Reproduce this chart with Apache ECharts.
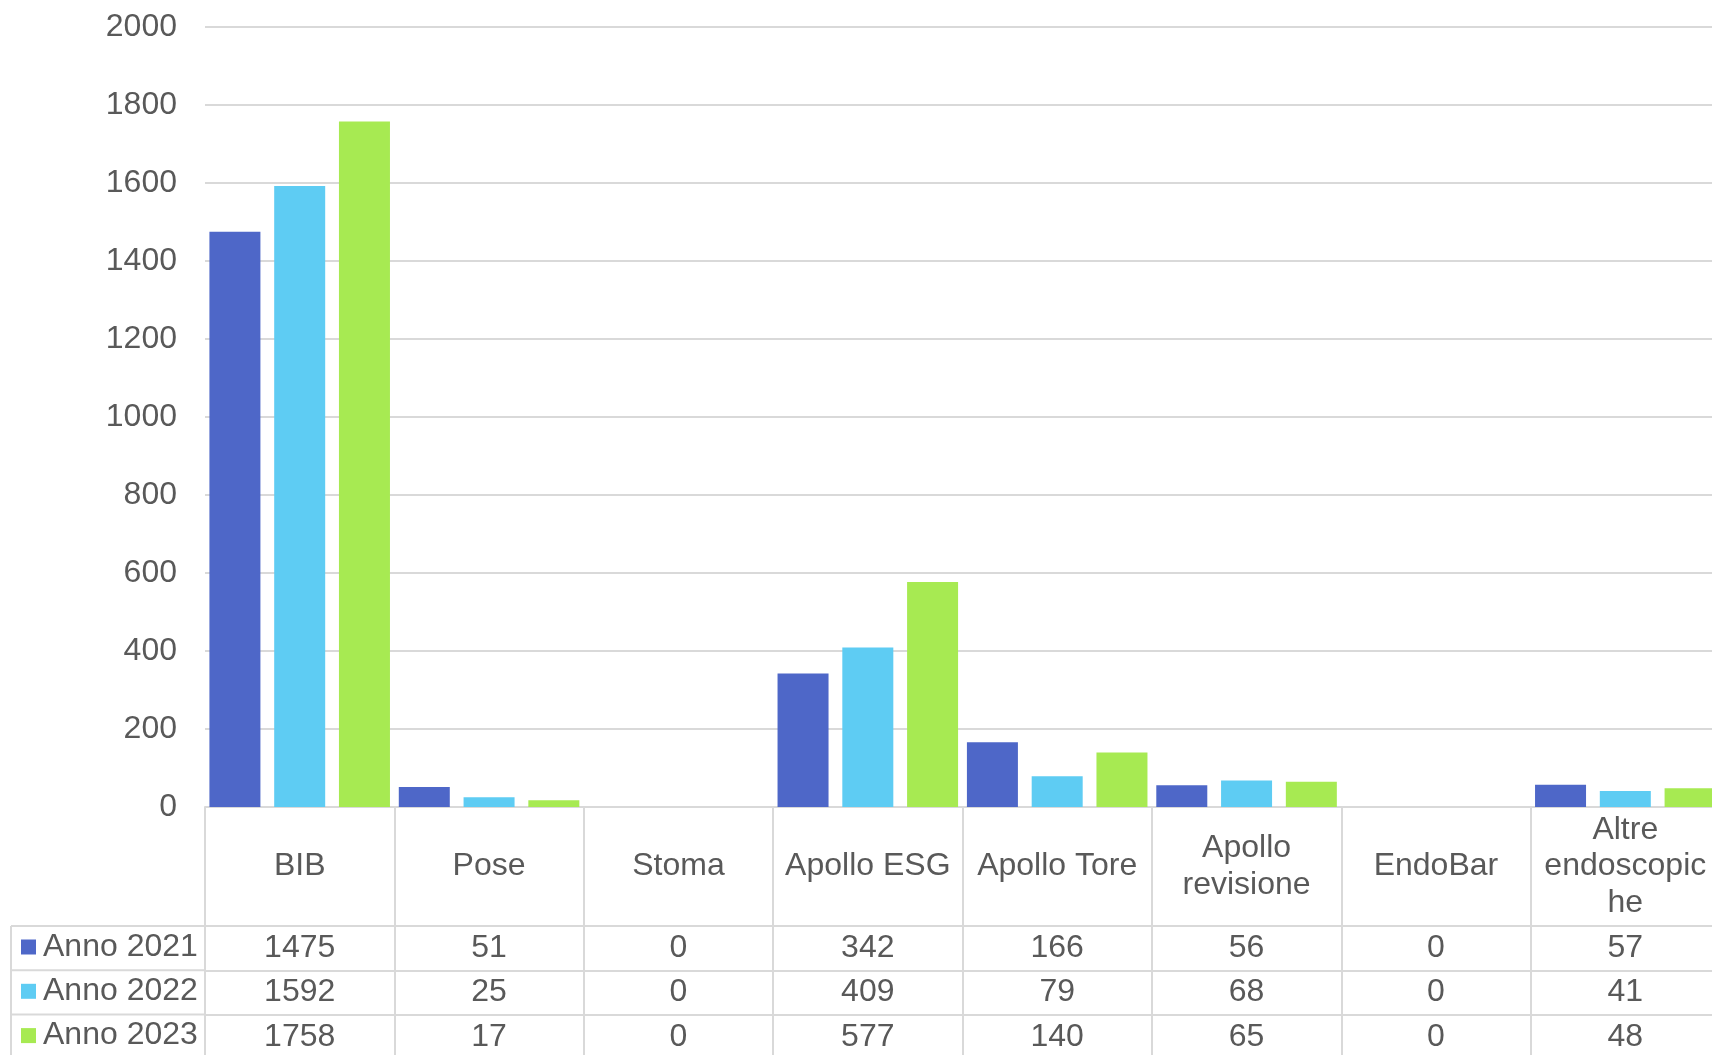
<!DOCTYPE html>
<html>
<head>
<meta charset="utf-8">
<script src="https://cdn.jsdelivr.net/npm/echarts@6/dist/echarts.min.js"></script>
<style>
html,body{margin:0;padding:0;background:#fff;overflow:hidden;width:1712px;height:1055px;}
#c{width:1720px;height:1055px;}
</style>
</head>
<body>
<div id="c"></div>
<script>
const categories = ['BIB', 'Pose', 'Stoma', 'Apollo ESG', 'Apollo Tore', 'Apollo\nrevisione', 'EndoBar', 'Altre\nendoscopic\nhe'];
const seriesNames = ['Anno 2021', 'Anno 2022', 'Anno 2023'];
const anno2021 = [1475, 51, 0, 342, 166, 56, 0, 57];
const anno2022 = [1592, 25, 0, 409, 79, 68, 0, 41];
const anno2023 = [1758, 17, 0, 577, 140, 65, 0, 48];
const colors = ['#4E67C8', '#5ECCF3', '#A7EA52'];
const yTicks = { min: 0, max: 2000, interval: 200 };

const allValues = [anno2021, anno2022, anno2023];
const FONT = '"Liberation Sans", Arial, sans-serif';
const TXT = '#595959';
const LINE = '#d9d9d9';
const FS = 32;

// layout
const gridLeft = 205, gridTop = 27, gridBottom = 248;
const headerH = 119;
const rowH = 44.3;
const axisY0 = 1055 - gridBottom;

const xAxes = [{
  type: 'category',
  data: categories,
  gridIndex: 0,
  position: 'bottom',
  offset: 0,
  axisLine: { show: true, lineStyle: { color: LINE, width: 2 } },
  axisTick: { show: true, interval: 0, length: headerH, lineStyle: { color: LINE, width: 2 } },
  axisLabel: {
    interval: 0, margin: headerH / 2, verticalAlign: 'middle',
    fontFamily: FONT, fontSize: FS, color: TXT, lineHeight: 36.5, align: 'center'
  },
  splitLine: { show: false }
}];
allValues.forEach((vals, i) => {
  xAxes.push({
    type: 'category',
    data: categories,
    gridIndex: 0,
    position: 'bottom',
    offset: headerH + i * rowH,
    axisLine: { show: true, lineStyle: { color: LINE, width: 2 } },
    axisTick: { show: true, interval: 0, length: rowH + (i === 2 ? 20 : 0), lineStyle: { color: LINE, width: 2 } },
    axisLabel: {
      interval: 0, margin: rowH / 2, verticalAlign: 'middle',
      fontFamily: FONT, fontSize: FS, color: TXT,
      formatter: (v, idx) => String(vals[idx])
    },
    splitLine: { show: false }
  });
});

const graphicLines = [];
for (let i = 0; i < 3; i++) {
  const y = axisY0 + headerH + i * rowH;
  graphicLines.push({
    type: 'line', silent: true,
    shape: { x1: 11, y1: y, x2: gridLeft, y2: y },
    style: { stroke: LINE, lineWidth: 2 }
  });
}
graphicLines.push({
  type: 'line', silent: true,
  shape: { x1: 11, y1: axisY0 + headerH, x2: 11, y2: 1060 },
  style: { stroke: LINE, lineWidth: 2 }
});

const option = {
  animation: false,
  backgroundColor: '#ffffff',
  color: colors,
  grid: { left: gridLeft, right: 0, top: gridTop, bottom: gridBottom, containLabel: false },
  legend: {
    orient: 'vertical',
    left: 21,
    top: axisY0 + headerH + 4,
    padding: 0,
    itemGap: 10.3,
    itemWidth: 15,
    itemHeight: 15,
    icon: 'rect',
    selectedMode: false,
    data: seriesNames,
    textStyle: { fontFamily: FONT, fontSize: FS, color: TXT, lineHeight: 34, padding: [0, 0, 0, 2] }
  },
  xAxis: xAxes,
  yAxis: {
    type: 'value',
    min: yTicks.min, max: yTicks.max, interval: yTicks.interval,
    axisLine: { show: false },
    axisTick: { show: false },
    axisLabel: { fontFamily: FONT, fontSize: FS, color: TXT, margin: 28, formatter: v => String(v) },
    splitLine: { show: true, lineStyle: { color: LINE, width: 2 } }
  },
  graphic: graphicLines,
  series: allValues.map((vals, i) => ({
    name: seriesNames[i],
    type: 'bar',
    xAxisIndex: 0,
    data: vals,
    barWidth: 51,
    barGap: '27%',
    itemStyle: { color: colors[i] }
  }))
};

const chart = echarts.init(document.getElementById('c'), null, { renderer: 'canvas' });
chart.setOption(option);
</script>
</body>
</html>
